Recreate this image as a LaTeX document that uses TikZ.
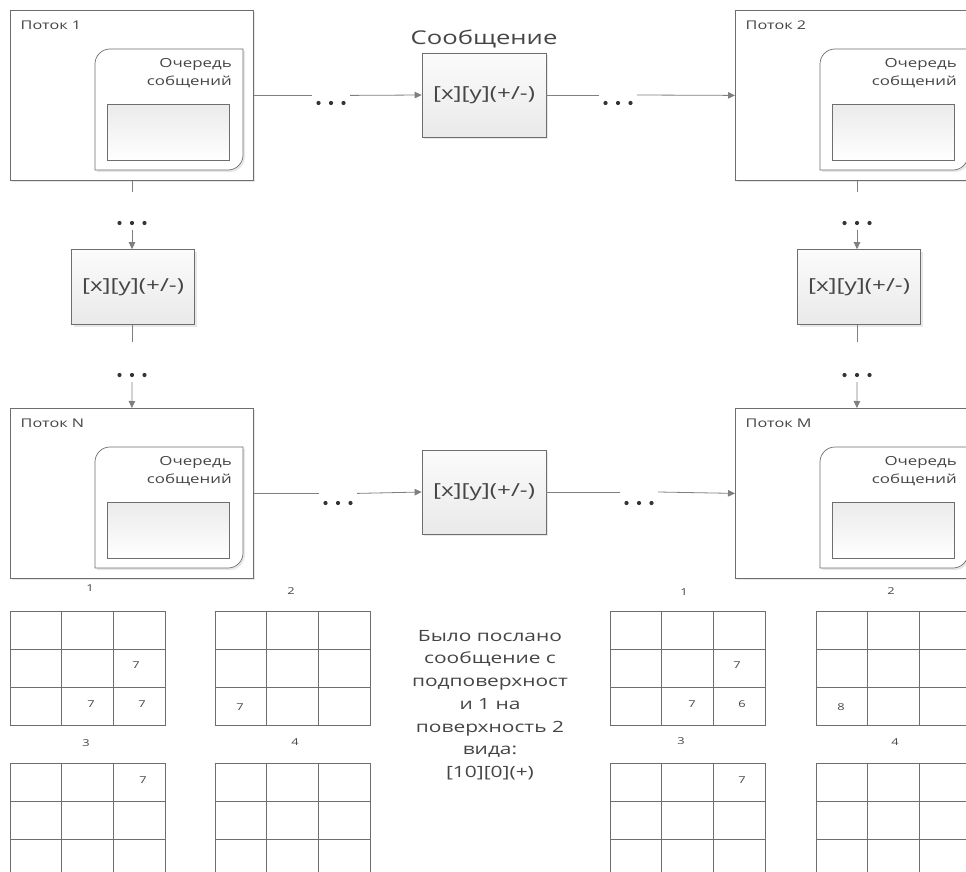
\documentclass[tikz,border=0pt]{standalone}
\usepackage{fontspec}
\setmainfont{Open Sans}[FakeStretch=1.35]
\usetikzlibrary{positioning,arrows.meta,shadows,calc}
\definecolor{boxline}{HTML}{6E6E6E}
\definecolor{linkline}{HTML}{7F7F7F}
\definecolor{txt}{HTML}{454545}

\begin{document}
\begin{tikzpicture}[x=1pt,y=-1pt,
	soft/.style={drop shadow={opacity=0.18,shadow xshift=2pt,shadow yshift=-2pt}},
	thread/.style={draw=boxline,fill=white,line width=0.8pt,anchor=north west,minimum width=243,minimum height=170,inner sep=0pt,soft},
	queue/.style={draw=boxline,fill=white,line width=0.7pt,soft},
	qslot/.style={draw=boxline,top color=gray!16,bottom color=white,line width=0.7pt,anchor=north west,minimum width=122,minimum height=56,inner sep=0pt},
	msg/.style={draw=boxline,top color=gray!3,bottom color=gray!17,line width=0.7pt,minimum width=124,minimum height=84,inner sep=0pt,text=txt,font=\fontsize{18}{21}\selectfont,soft},
	dots/.style={minimum width=38,minimum height=14,inner sep=0pt,
		path picture={\foreach \k in {-1,0,1} \fill[black!80] ($(path picture bounding box.center)+(\k*12.5,0)$) circle (2.1);}},
	tlabel/.style={anchor=north west,inner sep=0pt,text=txt,font=\fontsize{12}{14}\selectfont},
	qlabel/.style={anchor=north east,inner sep=0pt,align=right,text=txt,font=\fontsize{12.5}{18}\selectfont},
	link/.style={draw=linkline,line width=0.8pt},
	arrow/.style={link,-{Triangle[length=7pt,width=6.5pt]}},
	cell/.style={draw=boxline,line width=0.9pt},
	small/.style={inner sep=0pt,text=txt,font=\fontsize{9.5}{11}\selectfont}]
	\useasboundingbox (0,0) rectangle (966,872);
	\clip (0,0) rectangle (966,872);

	% threads
	\node[thread] (t1) at (10,10) {};
	\node[thread] (t2) at (735,10) {};
	\node[thread] (tN) at (10,408) {};
	\node[thread] (tM) at (735,408) {};
	\node[tlabel] (l1) at ([shift={(10.5,10.5)}]t1.north west) {Поток 1};
	\node[tlabel] (l2) at ([shift={(10.5,10.5)}]t2.north west) {Поток 2};
	\node[tlabel] (lN) at ([shift={(10.5,10.5)}]tN.north west) {Поток N};
	\node[tlabel] (lM) at ([shift={(10.5,10.5)}]tM.north west) {Поток M};

	% message queues
	\foreach \t in {t1,t2,tN,tM} {
		\draw[queue] ($(\t.north west)+(85,160)$) -- ++(0,-106)
			arc[start angle=180,end angle=270,radius=15] -- ++(133,0) -- ++(0,106)
			arc[start angle=0,end angle=90,radius=15] -- cycle;
		\node[qlabel] (ql-\t) at ($(\t.north west)+(222,48)$) {Очередь\\собщений};
		\node[qslot] (qs-\t) at ($(\t.north west)+(97,94)$) {};
	}

	% messages
	\node[msg] (m1) at (484,95) {[x][y](+/-)};
	\node[msg] (mN) at (484,492) {[x][y](+/-)};
	\node[msg,minimum width=123,minimum height=75] (b1) at (133,287) {[x][y](+/-)};
	\node[msg,minimum width=123,minimum height=75] (b2) at (859,287) {[x][y](+/-)};
	\node[inner sep=0pt,text=txt,font=\fontsize{19}{22}\selectfont,above=4pt of m1] (cap) {Сообщение};

	\node[dots] (d1) at (331,103) {};
	\node[dots] (d2) at (618,103) {};
	\node[dots] (d3) at (338,503) {};
	\node[dots] (d4) at (639,503) {};
	\node[dots] (v1) at (132,223) {};
	\node[dots] (v2) at (132,375) {};
	\node[dots] (v3) at (857,223) {};
	\node[dots] (v4) at (857,375) {};

	% horizontal connectors
	\draw[link] (t1.east) -- (t1.east -| d1.west);
	\draw[arrow] (t1.east -| d1.east) -- (m1.west);
	\draw[link] (m1.east) -- (m1.east -| d2.west);
	\draw[arrow] (m1.east -| d2.east) -- (t2.west);
	\draw[link] (tN.east) -- (tN.east -| d3.west);
	\draw[arrow] (tN.east -| d3.east) -- (mN.west);
	\draw[link] (mN.east) -- (mN.east -| d4.west);
	\draw[arrow] (mN.east -| d4.east) -- (tM.west);

	% vertical connectors
	\draw[link] (t1.south) -- ++(0,11);
	\draw[arrow] (v1.south) -- (v1.south |- b1.north);
	\draw[link] (v1.south |- b1.south) -- ++(0,17);
	\draw[arrow] (v2.south) -- (tN.north);
	\draw[link] (t2.south) -- ++(0,11);
	\draw[arrow] (v3.south) -- (v3.south |- b2.north);
	\draw[link] (v3.south |- b2.south) -- ++(0,17);
	\draw[arrow] (v4.south) -- (tM.north);

	% surfaces
	\foreach \gx/\gy in {10/611,215/611,10/763,215/763,610/611,816/611,610/763,816/763}
		\foreach \i in {0,1,2}
			\foreach \j in {0,1,2}
				\draw[cell] (\gx+\i*51.7,\gy+\j*38.3) rectangle ++(51.7,38.3);
	\node[small] (s1) at (90,588) {1};
	\node[small] (s2) at (291,591) {2};
	\node[small] (s3) at (86,743) {3};
	\node[small] (s4) at (295,742) {4};
	\node[small] (r1) at (684,592) {1};
	\node[small] (r2) at (891,591) {2};
	\node[small] (r3) at (681,741) {3};
	\node[small] (r4) at (895,742) {4};
	\node[small] (a1) at (136,665) {7};
	\node[small] (a2) at (91,704) {7};
	\node[small] (a3) at (142,704) {7};
	\node[small] (a4) at (240,707) {7};
	\node[small] (a5) at (143,780) {7};
	\node[small] (b6) at (737,665) {7};
	\node[small] (b7) at (692,704) {7};
	\node[small] (b8) at (742,704) {6};
	\node[small] (b9) at (841,707) {8};
	\node[small] (b10) at (742,780) {7};

	\node[inner sep=0pt,align=center,text=txt,font=\fontsize{15.5}{22.7}\selectfont] (note) at (490,705)
		{Было послано\\сообщение с\\подповерхност\\и 1 на\\поверхность 2\\вида:\\{[10][0](+)}};
\end{tikzpicture}
\end{document}
